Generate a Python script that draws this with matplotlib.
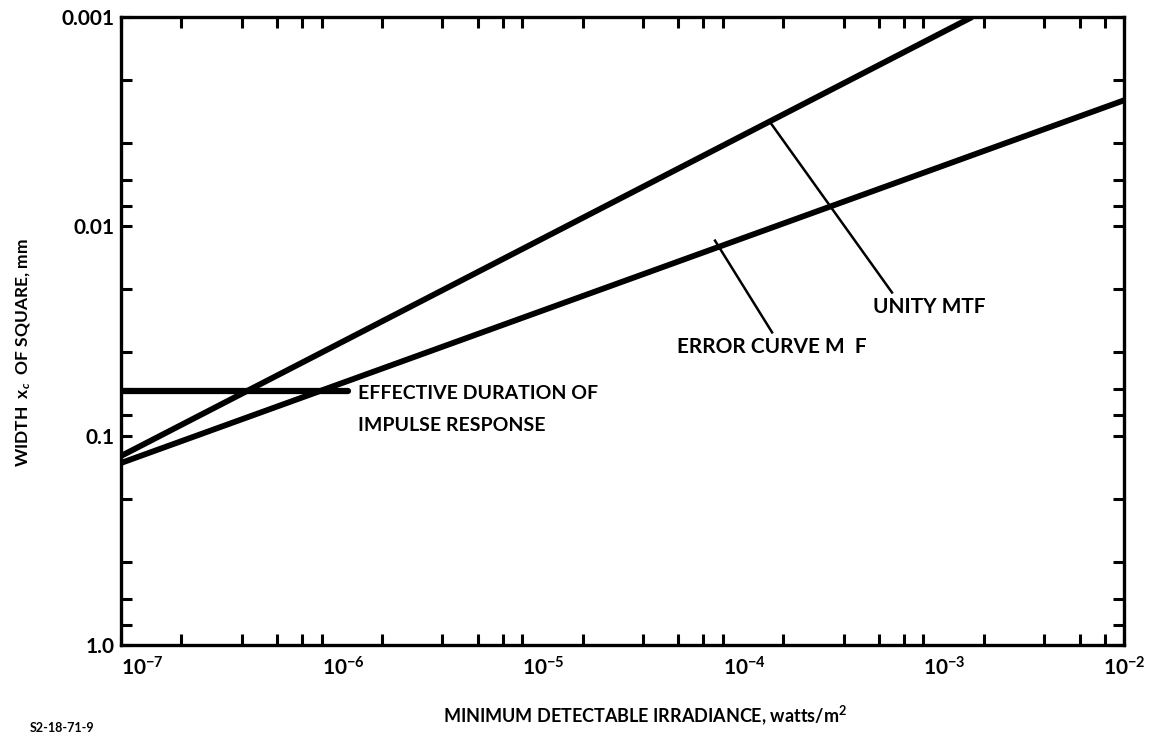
import matplotlib.pyplot as plt
from matplotlib.ticker import LogLocator, NullFormatter

plt.rcParams['font.family'] = ['Lato', 'DejaVu Sans']
plt.rcParams['font.weight'] = 'bold'
plt.rcParams['axes.labelweight'] = 'bold'
plt.rcParams['mathtext.fontset'] = 'custom'
plt.rcParams['mathtext.rm'] = 'Lato:bold'
plt.rcParams['mathtext.it'] = 'Lato:bold:italic'
plt.rcParams['mathtext.bf'] = 'Lato:bold'

# unity MTF: straight line on log-log axes
unity_irr = [1e-7, 1.75e-3]
unity_width = [0.125, 0.001]

# error-curve MTF
error_irr = [1e-7, 1e-2]
error_width = [0.135, 0.0025]

# effective duration of impulse response
impulse_irr = [1e-7, 1.35e-6]
impulse_width = [0.061, 0.061]

# leader lines from labels to curves
unity_leader_irr = [1.72e-4, 6.97e-4]
unity_leader_width = [0.00318, 0.0207]
error_leader_irr = [9.14e-5, 1.76e-4]
error_leader_width = [0.0117, 0.0321]

x_ticks = [1e-7, 1e-6, 1e-5, 1e-4, 1e-3, 1e-2]
x_labels = [r'$10^{-7}$', r'$10^{-6}$', r'$10^{-5}$', r'$10^{-4}$',
            r'$10^{-3}$', r'$10^{-2}$']
y_ticks = [0.001, 0.01, 0.1, 1.0]
y_labels = ['0.001', '0.01', '0.1', '1.0']

fig = plt.figure(figsize=(11.55, 7.36), dpi=100)
ax = fig.add_axes([0.1048, 0.1236, 0.8684, 0.8533])

ax.plot(unity_irr, unity_width, color='black', lw=4.2, solid_capstyle='butt')
ax.plot(error_irr, error_width, color='black', lw=4.2, solid_capstyle='butt')
ax.plot(impulse_irr, impulse_width, color='black', lw=4.5, solid_capstyle='round')
ax.plot(unity_leader_irr, unity_leader_width, color='black', lw=1.8)
ax.plot(error_leader_irr, error_leader_width, color='black', lw=1.8)

ax.set_xscale('log')
ax.set_yscale('log')
ax.set_xlim(1e-7, 1e-2)
ax.set_ylim(1.0, 0.001)

ax.set_xticks(x_ticks)
ax.set_xticklabels(x_labels, fontsize=15)
ax.set_yticks(y_ticks)
ax.set_yticklabels(y_labels, fontsize=15)
ax.xaxis.set_minor_locator(LogLocator(base=10, subs=[2, 4, 6, 8]))
ax.yaxis.set_minor_locator(LogLocator(base=10, subs=[2, 4, 6, 8]))
ax.xaxis.set_minor_formatter(NullFormatter())
ax.yaxis.set_minor_formatter(NullFormatter())

for lbl in ax.get_xticklabels()[:-1]:
    lbl.set_horizontalalignment('left')

ax.tick_params(which='both', direction='in', top=True, right=True,
               length=8, width=2.2, color='black')
ax.tick_params(axis='x', pad=8)
ax.tick_params(axis='y', pad=5)
for sp in ax.spines.values():
    sp.set_linewidth(2.4)

ax.text(5.61e-4, 0.0244, 'UNITY MTF', fontsize=15, va='center', ha='left')
ax.text(5.92e-5, 0.0375, 'ERROR CURVE M  F', fontsize=15, va='center', ha='left')
ax.text(1.52e-6, 0.063, 'EFFECTIVE DURATION OF', fontsize=14, va='center', ha='left')
ax.text(1.52e-6, 0.0895, 'IMPULSE RESPONSE', fontsize=14, va='center', ha='left')

ax.set_xlabel(r'MINIMUM DETECTABLE IRRADIANCE, watts/m$^2$', fontsize=13)
ax.xaxis.set_label_coords(0.522, -0.093)
ax.set_ylabel(r'WIDTH  x$_c$  OF SQUARE, mm', fontsize=12.5)
ax.yaxis.set_label_coords(-0.088, 0.465)

fig.text(0.026, 0.003, 'S2-18-71-9', fontsize=9, va='bottom', ha='left')

fig.savefig('out.png', dpi=100, facecolor='white')
